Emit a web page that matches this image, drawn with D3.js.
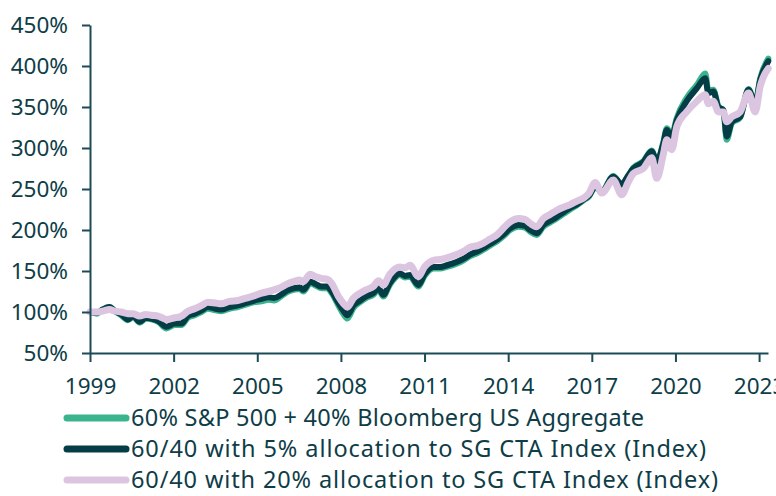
<!DOCTYPE html>
<html>
<head>
<meta charset="utf-8">
<script src="https://cdn.jsdelivr.net/npm/d3@7"></script>
<style>
  body { margin: 0; background: #fff; }
  svg text { font-family: "Noto Sans", sans-serif; fill: #0e3d48; }
</style>
</head>
<body>
<svg id="chart" width="776" height="496"></svg>
<script>
const years = [
  1999.00, 1999.25, 1999.45, 1999.70, 1999.90, 2000.12, 2000.36, 2000.55, 2000.78, 2001.00,
  2001.20, 2001.45, 2001.74, 2002.04, 2002.28, 2002.51, 2002.75, 2003.00, 2003.23, 2003.50,
  2003.71, 2004.00, 2004.30, 2004.60, 2004.90, 2005.15, 2005.40, 2005.60, 2005.85, 2006.06,
  2006.30, 2006.53, 2006.65, 2006.90, 2007.10, 2007.30, 2007.50, 2007.67, 2007.91, 2008.10,
  2008.23, 2008.45, 2008.69, 2008.90, 2009.16, 2009.35, 2009.52, 2009.75, 2010.12, 2010.30,
  2010.48, 2010.78, 2011.00, 2011.32, 2011.56, 2011.80, 2012.15, 2012.40, 2012.63, 2012.90,
  2013.11, 2013.35, 2013.59, 2013.85, 2014.07, 2014.37, 2014.60, 2014.79, 2015.02, 2015.26,
  2015.50, 2015.74, 2016.00, 2016.22, 2016.45, 2016.70, 2016.90, 2017.12, 2017.36, 2017.77,
  2018.07, 2018.30, 2018.49, 2018.85, 2019.15, 2019.33, 2019.57, 2019.69, 2019.87, 2020.05,
  2020.40, 2020.77, 2021.07, 2021.18, 2021.36, 2021.54, 2021.72, 2021.84, 2022.02, 2022.32,
  2022.62, 2022.86, 2023.04, 2023.33
];

// 60% S&P 500 + 40% Bloomberg US Aggregate
const sixtyForty = [
  100, 98, 103, 106, 101, 96, 90, 94, 87, 92,
  91, 88, 80, 84, 84, 93, 96, 100, 104, 102,
  101, 104, 106, 109, 112, 113, 115, 114, 119, 124,
  127, 128, 125, 135, 132, 129, 129, 123, 108, 97,
  92, 105, 112, 117, 121, 127, 119, 133, 145, 142,
  143, 131, 144, 153, 153, 155, 159, 163, 168, 172,
  176, 181, 186, 193, 200, 204, 203, 198, 194, 204,
  209, 214, 220, 225, 230, 236, 241, 252, 247, 266,
  255, 266, 276, 284, 297, 283, 308, 324, 316, 337,
  361, 377, 391, 370, 371, 351, 346, 310, 330, 337,
  372, 355, 385, 409
];

// 60/40 with 5% allocation to SG CTA Index
const cta5 = [
  100, 99, 103, 106, 101, 97, 91, 95, 88, 93,
  92, 89, 82, 86, 86, 95, 98, 102, 106, 104,
  103, 106, 108, 111, 114, 116, 118, 117, 121, 126,
  129, 130, 127, 137, 134, 131, 131, 125, 111, 101,
  96, 108, 114, 119, 123, 129, 121, 135, 147, 144,
  145, 133, 146, 155, 155, 157, 161, 165, 170, 174,
  178, 183, 188, 195, 202, 206, 205, 200, 196, 206,
  211, 216, 222, 227, 231, 237, 242, 253, 247, 265,
  256, 266, 275, 283, 296, 284, 306, 322, 314, 334,
  357, 373, 385, 367, 369, 350, 346, 314, 332, 338,
  371, 354, 383, 406
];

// 60/40 with 20% allocation to SG CTA Index
const cta20 = [
  100, 100, 101, 103, 101, 100, 98, 98, 95, 97,
  96, 95, 91, 93, 95, 101, 104, 108, 112, 111,
  110, 113, 114, 117, 120, 123, 125, 127, 130, 134,
  137, 139, 137, 146, 143, 141, 140, 135, 119, 110,
  106, 117, 123, 127, 131, 138, 133, 146, 155, 154,
  157, 143, 155, 163, 164, 166, 170, 174, 179, 181,
  184, 189, 194, 203, 210, 214, 213, 208, 204, 214,
  219, 224, 228, 231, 235, 239, 245, 258, 245, 261,
  243, 258, 269, 275, 288, 263, 293, 310, 298, 326,
  344, 357, 365, 354, 357, 344, 344, 332, 338, 344,
  367, 344, 375, 397
];

const xTicks = [1999, 2002, 2005, 2008, 2011, 2014, 2017, 2020, 2023];
const yTicks = [50, 100, 150, 200, 250, 300, 350, 400, 450];

const seriesNames = [
  "60% S&P 500 + 40% Bloomberg US Aggregate",
  "60/40 with 5% allocation to SG CTA Index (Index)",
  "60/40 with 20% allocation to SG CTA Index (Index)"
];
const seriesColors = ["#3bb38d", "#053d47", "#dcc5e0"];
const seriesWidths = [6, 6, 7];
// legend text widths in the reference (its font is wider than Noto Sans)
const legendWidths = [513, 575, 587];

function main() {
  const svg = d3.select("#chart");
  const axisColor = "#1b4b56";

  const x = d3.scaleLinear().domain([1999, 2023.32]).range([90, 768]);
  const y = d3.scaleLinear().domain([50, 450]).range([353, 25]);

  const series = [sixtyForty, cta5, cta20].map((vals, i) => ({
    name: seriesNames[i],
    color: seriesColors[i],
    width: seriesWidths[i],
    textWidth: legendWidths[i],
    points: years.map((yr, j) => ({ year: yr, value: vals[j] }))
  }));

  const line = d3.line()
    .x(d => x(d.year))
    .y(d => y(d.value))
    .curve(d3.curveMonotoneX);

  svg.append("g")
    .selectAll("path")
    .data(series)
    .join("path")
      .attr("d", d => line(d.points))
      .attr("fill", "none")
      .attr("stroke", d => d.color)
      .attr("stroke-width", d => d.width)
      .attr("stroke-linejoin", "round")
      .attr("stroke-linecap", "round");

  // axes
  const yAxis = svg.append("g")
    .attr("transform", "translate(90,0)")
    .call(d3.axisLeft(y).tickValues(yTicks).tickSize(8).tickSizeOuter(0).tickPadding(14)
      .tickFormat(d => d + "%"));

  const xAxis = svg.append("g")
    .attr("transform", "translate(0,353)")
    .call(d3.axisBottom(x).tickValues(xTicks).tickSize(9).tickSizeOuter(0).tickPadding(16)
      .tickFormat(d3.format("d")));

  [xAxis, yAxis].forEach(g => {
    g.select(".domain").attr("stroke", axisColor).attr("stroke-width", 2);
    g.selectAll(".tick line").attr("stroke", axisColor).attr("stroke-width", 2);
    g.selectAll(".tick text")
      .attr("font-size", 22.5)
      .attr("font-family", "Noto Sans, sans-serif")
      .attr("fill", "#0e3d48");
  });

  // legend
  const legend = svg.append("g")
    .selectAll("g")
    .data(series)
    .join("g")
      .attr("transform", (d, i) => `translate(67,${418 + i * 31})`);

  legend.append("line")
    .attr("x1", 0).attr("x2", 59)
    .attr("stroke", d => d.color)
    .attr("stroke-width", 7)
    .attr("stroke-linecap", "round");

  legend.append("text")
    .attr("x", 64)
    .attr("dy", "0.36em")
    .attr("font-size", 23.5)
    .attr("textLength", d => d.textWidth)
    .attr("lengthAdjust", "spacing")
    .text(d => d.name);
}

window.onload = main;
</script>
</body>
</html>
